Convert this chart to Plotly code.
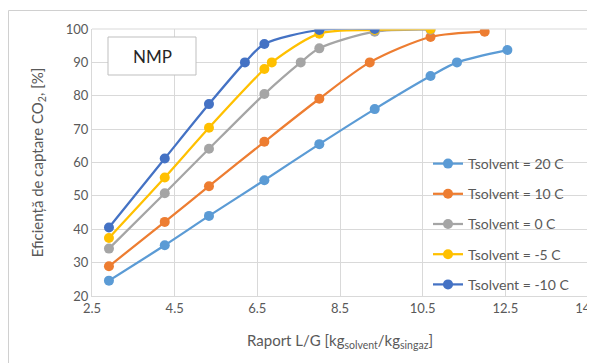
import plotly.graph_objects as go

# Data
x_20 = [2.91, 4.26, 5.33, 6.67, 8.0, 9.34, 10.69, 11.33, 12.55]
y_20 = [24.6, 35.2, 44.0, 54.7, 65.5, 76.0, 85.9, 90.0, 93.7]

x_10 = [2.91, 4.26, 5.33, 6.67, 8.0, 9.22, 10.69, 12.0]
y_10 = [28.9, 42.2, 52.9, 66.2, 79.1, 90.0, 97.6, 99.2]

x_0 = [2.91, 4.26, 5.33, 6.67, 7.55, 8.0, 9.34, 10.69]
y_0 = [34.2, 50.8, 64.1, 80.5, 90.0, 94.2, 99.2, 99.8]

x_m5 = [2.91, 4.26, 5.33, 6.67, 6.85, 8.0, 9.34, 10.69]
y_m5 = [37.4, 55.5, 70.4, 88.0, 90.0, 98.6, 99.7, 100.0]

x_m10 = [2.91, 4.26, 5.33, 6.2, 6.67, 8.0, 9.34]
y_m10 = [40.5, 61.2, 77.5, 90.0, 95.5, 99.7, 100.0]

series_names = ["Tsolvent = 20 C", "Tsolvent = 10 C", "Tsolvent = 0 C",
                "Tsolvent = -5 C", "Tsolvent = -10 C"]
series_x = [x_20, x_10, x_0, x_m5, x_m10]
series_y = [y_20, y_10, y_0, y_m5, y_m10]
colors = ["#5B9BD5", "#ED7D31", "#A5A5A5", "#FFC000", "#4472C4"]

x_ticks = [2.5, 4.5, 6.5, 8.5, 10.5, 12.5, 14.5]
y_ticks = [20, 30, 40, 50, 60, 70, 80, 90, 100]

FONT = "Lato"
GRAY = "#595959"
GRID = "#D9D9D9"

fig = go.Figure()
for i, (n, xs, ys, c) in enumerate(zip(series_names, series_x, series_y, colors)):
    fig.add_trace(go.Scatter(
        x=xs, y=ys, name=n, mode="lines+markers",
        line=dict(color=c, width=2.25, shape="spline", smoothing=0.8),
        marker=dict(color=c, size=10),
        legendgroup=f"g{i}",
    ))

# page body has an 8px default margin; compensate so the plot lands where intended
OFF = 8
W, H = 595 - OFF, 363 - OFF
L, R, T, B = 92 - OFF, 7, 29 - OFF, 67
pw, ph = W - L - R, H - T - B

def px_x(p):
    return (p - OFF - L) / pw

def px_y(p):
    return (H - B - (p - OFF)) / ph

fig.update_layout(
    width=W, height=H,
    margin=dict(l=L, r=R, t=T, b=B, autoexpand=False),
    paper_bgcolor="white", plot_bgcolor="white",
    font=dict(family=FONT, size=13, color=GRAY),
    showlegend=True,
    legend=dict(
        x=px_x(428), y=px_y(148), xanchor="left", yanchor="top",
        bgcolor="rgba(0,0,0,0)", font=dict(family=FONT, size=14, color=GRAY),
        itemwidth=30, tracegroupgap=9,
    ),
    xaxis=dict(
        range=[2.5, 14.5], tickvals=x_ticks, ticktext=[str(v) for v in x_ticks],
        showgrid=True, gridcolor=GRID, gridwidth=1, automargin=False,
        ticklabeloverflow="allow",
        showline=True, linecolor=GRID, linewidth=1, mirror=False,
        zeroline=False, ticks="", tickfont=dict(size=13, color=GRAY),
        title=dict(text="Raport L/G [kg<sub>solvent</sub>/kg<sub>singaz</sub>]",
                   font=dict(size=15, color=GRAY), standoff=20),
    ),
    yaxis=dict(
        range=[20, 100], tickvals=y_ticks, automargin=False,
        showgrid=True, gridcolor=GRID, gridwidth=1,
        showline=True, linecolor=GRID, linewidth=1,
        zeroline=False, ticks="", tickfont=dict(size=13, color=GRAY),
        title=dict(text="Eficiență de captare CO<sub>2</sub>, [%]",
                   font=dict(size=15, color=GRAY), standoff=18),
    ),
)

# right and top grid borders of plot area
fig.add_shape(type="line", xref="paper", yref="paper", x0=1, x1=1, y0=0, y1=1,
              line=dict(color=GRID, width=1))
fig.add_shape(type="line", xref="paper", yref="paper", x0=0, x1=1, y0=1, y1=1,
              line=dict(color=GRID, width=1))

# outer chart border
fig.add_shape(type="rect", xref="paper", yref="paper",
              x0=px_x(8.5), x1=px_x(605), y0=px_y(375), y1=px_y(10.5),
              line=dict(color="#D0D0D0", width=1), fillcolor="rgba(0,0,0,0)",
              layer="above")

# NMP label box
fig.add_shape(type="rect", xref="paper", yref="paper",
              x0=px_x(108), x1=px_x(196), y0=px_y(75), y1=px_y(37),
              line=dict(color="#BFBFBF", width=1), fillcolor="white", layer="above")
fig.add_annotation(xref="paper", yref="paper", x=px_x(152), y=px_y(56),
                   xanchor="center", yanchor="middle",
                   text="NMP", showarrow=False,
                   font=dict(family=FONT, size=17, color="#262626"))

fig.write_html("out.html")
